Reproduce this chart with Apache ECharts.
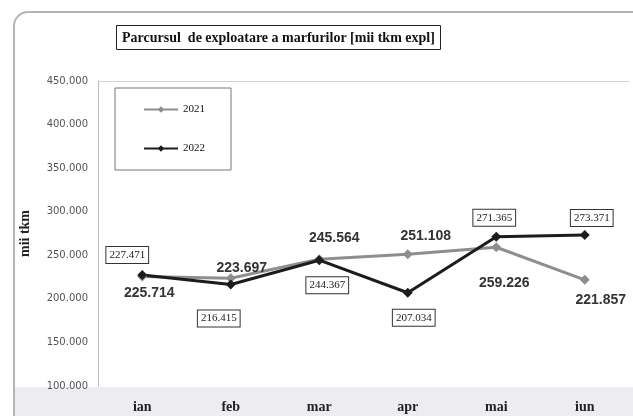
<!DOCTYPE html>
<html>
<head>
<meta charset="utf-8">
<script src="https://cdn.jsdelivr.net/npm/echarts@6/dist/echarts.min.js"></script>
<style>
  html, body { margin: 0; padding: 0; background: #fff; }
  #chart { width: 633px; height: 416px; }
</style>
</head>
<body>
<div id="chart"></div>
<script>
// luni
const months = ['ian', 'feb', 'mar', 'apr', 'mai', 'iun'];
// mii tkm expl
const values2021 = [225714, 223697, 245564, 251108, 259226, 221857];
const values2022 = [227471, 216415, 244367, 207034, 271365, 273371];

// offset eticheta fata de punct
const offsets2021 = [[7, 17], [11, -10], [15, -21], [18, -18], [8, 36], [16, 20]];
const offsets2022 = [[-15, -20], [-12, 34], [8, 25], [6, 25], [-2, -19], [7, -17]];

function fmt(v) {
  return String(v).replace(/\B(?=(\d{3})+(?!\d))/g, '.');
}

const chart = echarts.init(document.getElementById('chart'));

const serif = '"Liberation Serif", "DejaVu Serif", serif';

const option = {
  backgroundColor: '#fff',
  animation: false,
  title: {
    text: 'Parcursul  de exploatare a marfurilor [mii tkm expl]',
    left: 116,
    top: 25,
    borderColor: '#222',
    borderWidth: 1,
    padding: [6, 6, 5, 6],
    textStyle: { fontFamily: serif, fontWeight: 'bold', fontSize: 14, color: '#111' }
  },
  legend: {
    orient: 'vertical',
    left: 115,
    top: 88,
    itemGap: 28,
    itemWidth: 34,
    itemHeight: 8,
    padding: [16, 26, 16, 28],
    borderColor: '#777',
    borderWidth: 1,
    data: ['2021', '2022'],
    textStyle: { fontFamily: serif, fontSize: 11, color: '#111' }
  },
  graphic: [
    {
      type: 'rect',
      z: -10,
      shape: { x: 15, y: 387, width: 640, height: 40 },
      style: { fill: '#ececf1' }
    },
    {
      type: 'rect',
      z: -10,
      shape: { x: 14, y: 12, width: 640, height: 440, r: 14 },
      style: { fill: 'none', stroke: '#b5b5b5', lineWidth: 2 }
    }
  ],
  grid: { left: 98, right: 4, top: 81, bottom: 30 },
  xAxis: {
    type: 'category',
    data: months,
    axisLine: { show: false },
    axisTick: { show: false },
    axisLabel: { margin: 14, fontFamily: serif, fontWeight: 'bold', fontSize: 14, color: '#222' }
  },
  yAxis: {
    type: 'value',
    min: 100000,
    max: 450000,
    interval: 50000,
    name: 'mii tkm',
    nameLocation: 'middle',
    nameRotate: 90,
    nameGap: 66,
    nameTextStyle: { fontFamily: serif, fontWeight: 'bold', fontSize: 14, color: '#222' },
    axisLine: { show: true, lineStyle: { color: '#bdbdbd' } },
    axisTick: { show: false },
    splitLine: {
      show: true,
      lineStyle: { color: ['transparent', 'transparent', 'transparent', 'transparent', 'transparent', 'transparent', 'transparent', '#d2d2d2'] }
    },
    axisLabel: {
      margin: 10,
      fontFamily: '"DejaVu Sans", sans-serif',
      fontSize: 10,
      color: '#555',
      formatter: fmt
    }
  },
  series: [
    {
      name: '2021',
      type: 'line',
      color: '#8e8e8e',
      symbol: 'diamond',
      symbolSize: 10,
      lineStyle: { width: 3, color: '#8e8e8e' },
      itemStyle: { color: '#8e8e8e' },
      data: values2021.map((v, i) => ({
        value: v,
        label: {
          show: true,
          position: 'inside',
          offset: offsets2021[i],
          formatter: fmt(v),
          fontFamily: '"Liberation Sans", Arial, sans-serif',
          fontWeight: 'bold',
          fontSize: 14,
          color: '#333'
        }
      }))
    },
    {
      name: '2022',
      type: 'line',
      color: '#1c1c1c',
      symbol: 'diamond',
      symbolSize: 10,
      lineStyle: { width: 3, color: '#1c1c1c' },
      itemStyle: { color: '#1c1c1c' },
      data: values2022.map((v, i) => ({
        value: v,
        label: {
          show: true,
          position: 'inside',
          offset: offsets2022[i],
          formatter: fmt(v),
          fontFamily: serif,
          fontSize: 11,
          color: '#222',
          backgroundColor: '#fff',
          borderColor: '#333',
          borderWidth: 1,
          padding: [3, 3, 2, 3]
        }
      }))
    }
  ]
};

chart.setOption(option);
</script>
</body>
</html>
